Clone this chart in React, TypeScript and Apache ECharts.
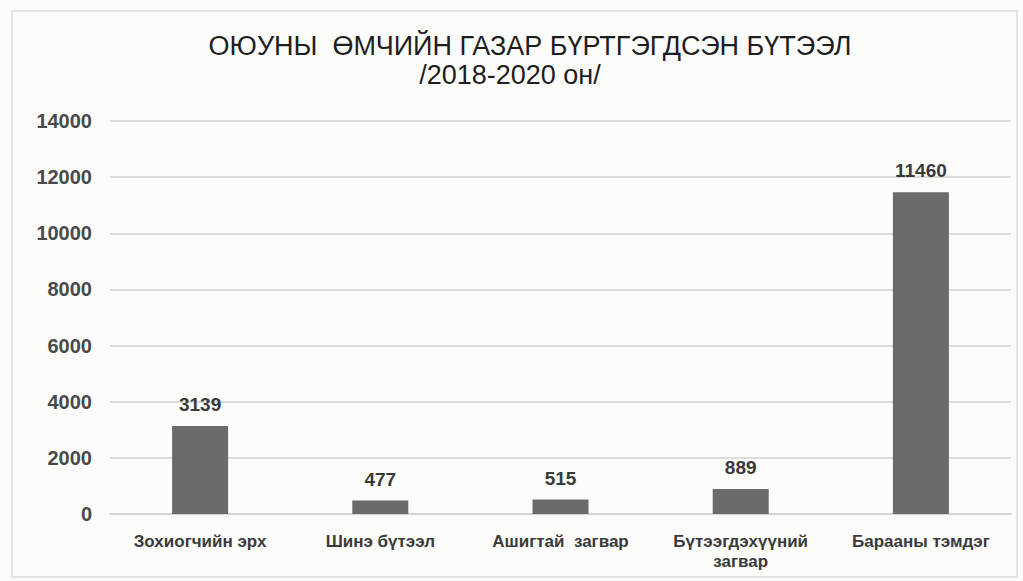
import React, { useEffect, useRef } from "react";
import * as echarts from "echarts";

const titleLine1 = "ОЮУНЫ  ӨМЧИЙН ГАЗАР БҮРТГЭГДСЭН БҮТЭЭЛ";
const titleLine2 = "/2018-2020 он/";
const categories = [
  "Зохиогчийн эрх",
  "Шинэ бүтээл",
  "Ашигтай  загвар",
  "Бүтээгдэхүүний\nзагвар",
  "Барааны тэмдэг",
];
const values = [3139, 477, 515, 889, 11460];
const yTicks = [0, 2000, 4000, 6000, 8000, 10000, 12000, 14000];

export default function App() {
  const ref = useRef<HTMLDivElement>(null);
  useEffect(() => {
    if (!ref.current) return;
    const chart = echarts.init(ref.current, null, { renderer: "svg" });
    const titleStyle = {
      fontFamily: "Liberation Sans, Arial, sans-serif",
      fontSize: 27,
      fontWeight: "normal",
      color: "#1e1e1e",
    };
    chart.setOption({
      animation: false,
      backgroundColor: "#fcfcfa",
      title: [
        {
          text: titleLine1,
          left: 530,
          textAlign: "center",
          top: 32,
          padding: 0,
          textStyle: titleStyle,
        },
        {
          text: titleLine2,
          left: 510,
          textAlign: "center",
          top: 61,
          padding: 0,
          textStyle: titleStyle,
        },
      ],
      graphic: [
        {
          type: "rect",
          shape: { x: 12, y: 11, width: 1005, height: 566 },
          style: { fill: "none", stroke: "#e4e4e2", lineWidth: 2 },
          silent: true,
        },
      ],
      grid: { left: 110, right: 12, top: 121, bottom: 67 },
      xAxis: {
        type: "category",
        data: categories,
        axisLine: { show: true, lineStyle: { color: "#d4d4d4", width: 2 } },
        axisTick: { show: false },
        axisLabel: {
          margin: 17,
          fontFamily: "Liberation Sans, Arial, sans-serif",
          fontSize: 17,
          fontWeight: "bold",
          color: "#3a3a3a",
          lineHeight: 20,
          interval: 0,
        },
      },
      yAxis: {
        type: "value",
        min: yTicks[0],
        max: yTicks[yTicks.length - 1],
        interval: 2000,
        axisLine: { show: false },
        axisTick: { show: false },
        axisLabel: {
          margin: 18,
          fontFamily: "Liberation Sans, Arial, sans-serif",
          fontSize: 20,
          color: "#4a4a4a",
          fontWeight: "bold",
          formatter: (v: number) => String(v),
        },
        splitLine: { lineStyle: { color: "#dcdcdc", width: 2 } },
      },
      series: [
        {
          type: "bar",
          data: values,
          barWidth: 56,
          itemStyle: { color: "#6c6b6a" },
          label: {
            show: true,
            position: "top",
            distance: 12,
            fontFamily: "Liberation Sans, Arial, sans-serif",
            fontSize: 19,
            fontWeight: "bold",
            color: "#3a3a3a",
          },
        },
      ],
    });
    return () => chart.dispose();
  }, []);
  return (
    <div
      ref={ref}
      style={{ position: "fixed", left: 0, top: 0, width: 1023, height: 581 }}
    />
  );
}
